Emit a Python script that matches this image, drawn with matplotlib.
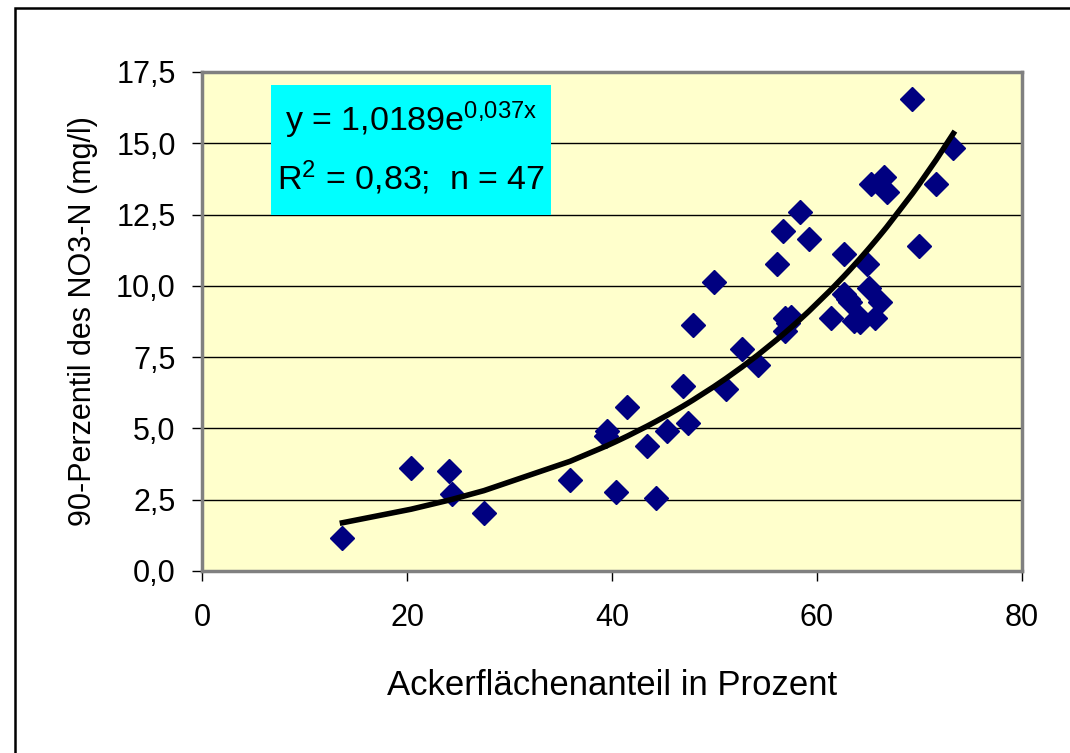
import numpy as np
import matplotlib
matplotlib.use('Agg')
import matplotlib.pyplot as plt
from matplotlib.patches import Rectangle

plt.rcParams['font.family'] = ['Liberation Sans', 'DejaVu Sans']
plt.rcParams['mathtext.fontset'] = 'custom'
plt.rcParams['mathtext.rm'] = 'Liberation Sans'
plt.rcParams['mathtext.it'] = 'Liberation Sans'

# Ackerflächenanteil (%) and 90-Perzentil NO3-N (mg/l)
acker = [13.7, 20.4, 24.1, 24.4, 27.5, 35.9, 39.5, 39.4, 40.4, 41.5,
         43.4, 44.3, 45.4, 46.9, 47.4, 47.9, 49.9, 51.1, 52.7, 54.2,
         56.1, 56.7, 56.9, 57.5, 56.9, 58.3, 59.2, 61.4, 62.6, 62.6,
         63.2, 63.6, 64.2, 64.9, 65.1, 65.7, 66.1, 65.3, 66.5, 66.8,
         69.3, 69.9, 71.6, 73.3, 63.0, 64.1, 57.2]
no3n = [1.16, 3.61, 3.51, 2.70, 2.02, 3.19, 4.90, 4.72, 2.77, 5.76,
        4.37, 2.56, 4.90, 6.50, 5.20, 8.63, 10.13, 6.37, 7.79, 7.21,
        10.77, 11.94, 8.87, 8.92, 8.40, 12.58, 11.63, 8.86, 11.11, 9.71,
        9.45, 8.75, 8.72, 10.76, 9.92, 8.86, 9.42, 13.56, 13.80, 13.28,
        16.54, 11.41, 13.56, 14.83, 9.55, 8.90, 8.70]

# exponential trend y = a * exp(b x)
a, b = 1.0189, 0.037

fig = plt.figure(figsize=(10.70, 7.53), dpi=100)
ax = fig.add_axes([0.1888, 0.2417, 0.7664, 0.6627])
ax.set_facecolor('#FFFFCC')

xs = np.sort(np.array(acker))
ax.plot(acker, no3n, 'D', color='#000080', markersize=12, zorder=3)
ax.plot(xs, a * np.exp(b * xs), color='black', lw=4, zorder=4)

ax.set_xlim(0, 80)
ax.set_ylim(0, 17.5)
ax.set_xticks([0, 20, 40, 60, 80])
yt = np.arange(0, 17.6, 2.5)
ax.set_yticks(yt)
ax.set_yticklabels([f'{v:.1f}'.replace('.', ',') for v in yt])
ax.yaxis.grid(True, color='black', lw=1)
ax.set_axisbelow(True)
for s in ax.spines.values():
    s.set_color('#808080')
    s.set_linewidth(2.5)
ax.tick_params(direction='out', length=7, width=1, color='black',
               labelsize=22)
ax.tick_params(axis='x', pad=16)
ax.tick_params(axis='y', pad=12)

ax.set_xlabel('Ackerflächenanteil in Prozent', fontsize=25, labelpad=26)
ax.set_ylabel('90-Perzentil des NO3-N (mg/l)', fontsize=22, labelpad=13)

ax.add_patch(Rectangle((0.084, 0.713), 0.342, 0.261, transform=ax.transAxes,
                       facecolor='#00FFFF', edgecolor='none', zorder=5))
ax.text(0.255, 0.904, r'y = 1,0189e$^{0{,}037x}$', transform=ax.transAxes,
        ha='center', va='center', fontsize=24.5, zorder=6)
ax.text(0.255, 0.788, r'R$^2$ = 0,83;  n = 47', transform=ax.transAxes,
        ha='center', va='center', fontsize=24.5, zorder=6)

# outer chart border
fig.add_artist(Rectangle((0.014, -0.5), 1.5, 1.4894, transform=fig.transFigure,
                         facecolor='none', edgecolor='black', lw=1.8))

fig.savefig('out.png', dpi=100)
